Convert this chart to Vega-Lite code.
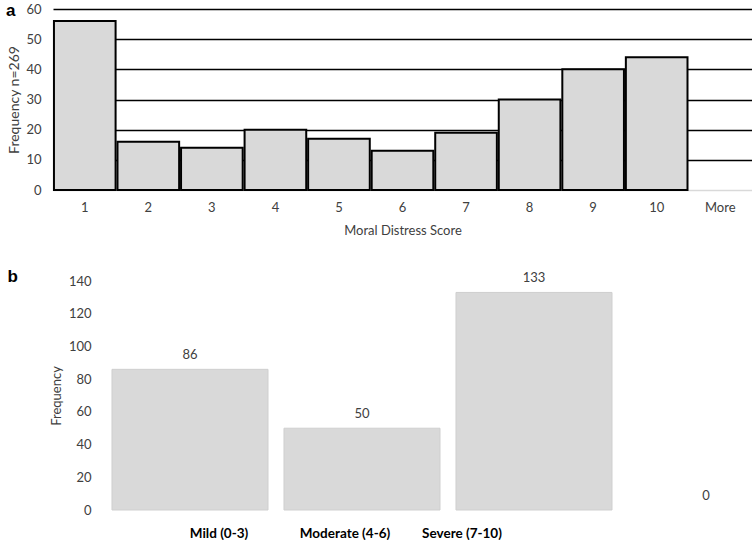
{
  "$schema": "https://vega.github.io/schema/vega-lite/v6.json",
  "padding": {"left": 5, "top": 2, "right": 0, "bottom": 0},
  "config": {"view": {"stroke": null}, "font": "Lato", "axis": {"labelColor": "#404040", "titleColor": "#404040", "titleFontWeight": "normal"}},
  "datasets": {
    "scores": [
      {"score": "1", "freq": 56}, {"score": "2", "freq": 16}, {"score": "3", "freq": 14},
      {"score": "4", "freq": 20}, {"score": "5", "freq": 17}, {"score": "6", "freq": 13},
      {"score": "7", "freq": 19}, {"score": "8", "freq": 30}, {"score": "9", "freq": 40},
      {"score": "10", "freq": 44}, {"score": "More", "freq": 0}
    ],
    "levels": [
      {"level": "Mild (0-3)", "freq": 86}, {"level": "Moderate (4-6)", "freq": 50},
      {"level": "Severe (7-10)", "freq": 133}, {"level": "More", "freq": 0}
    ]
  },
  "vconcat": [
    {
      "title": {"text": "a", "anchor": "start", "frame": "bounds", "font": "Liberation Sans", "fontSize": 17, "fontWeight": "bold", "color": "#000000", "baseline": "top", "offset": -17, "dx": -2},
      "width": 699,
      "height": 181,
      "data": {"name": "scores"},
      "transform": [{"filter": "datum.freq > 0"}],
      "mark": {"type": "bar", "fill": "#d9d9d9", "stroke": "#000000", "strokeWidth": 2},
      "encoding": {
        "x": {"field": "score", "type": "ordinal", "sort": null,
          "scale": {"domain": ["1","2","3","4","5","6","7","8","9","10","More"], "paddingInner": 0.03, "paddingOuter": 0.015},
          "axis": {"title": "Moral Distress Score", "labelAngle": 0, "ticks": false, "domain": false, "labelPadding": 11, "titlePadding": 10, "labelFontSize": 13, "titleFontSize": 13}},
        "y": {"field": "freq", "type": "quantitative",
          "scale": {"domain": [0, 60]},
          "axis": {"title": "Frequency n=269", "values": [0,10,20,30,40,50,60], "grid": true,
            "gridColor": {"condition": {"test": "datum.value === 0", "value": "#d9d9d9"}, "value": "#000000"},
            "gridWidth": 1.5, "domain": false, "ticks": false, "labelPadding": 12, "titlePadding": 4, "labelFontSize": 13, "titleFontSize": 14}}
      }
    },
    {
      "title": {"text": "b", "anchor": "start", "frame": "bounds", "font": "Liberation Sans", "fontSize": 17, "fontWeight": "bold", "color": "#000000", "baseline": "top", "offset": -14, "dx": -43},
      "width": 699,
      "height": 229,
      "data": {"name": "levels"},
      "encoding": {
        "x": {"field": "level", "type": "nominal", "sort": null,
          "scale": {"domain": ["Mild (0-3)", "Moderate (4-6)", "Severe (7-10)", "More"], "range": [51, 739], "paddingInner": 0.093, "paddingOuter": 0.0465},
          "axis": {"title": null, "labelAngle": 0, "ticks": false, "domain": false, "labelPadding": 16, "labelFontSize": 13.5, "labelFontWeight": "bold", "labelColor": "#000000",
            "labelExpr": "datum.value === 'More' ? '' : datum.label",
            "labelOffset": {"condition": [{"test": "datum.value === 'Mild (0-3)'", "value": 29}, {"test": "datum.value === 'Moderate (4-6)'", "value": -17}], "value": -72}}},
        "y": {"field": "freq", "type": "quantitative",
          "scale": {"domain": [0, 140]},
          "axis": {"title": "Frequency", "values": [0,20,40,60,80,100,120,140], "grid": false, "domain": false, "ticks": false, "offset": -40, "labelPadding": 2, "titlePadding": 5, "labelFontSize": 13, "titleFontSize": 13}}
      },
      "layer": [
        {"transform": [{"filter": "datum.freq > 0"}], "mark": {"type": "bar", "fill": "#d9d9d9", "stroke": "#cfcfcf", "strokeWidth": 1}},
        {"mark": {"type": "text", "baseline": "middle", "dy": -14, "fontSize": 13, "color": "#404040"}, "encoding": {"text": {"field": "freq", "type": "quantitative"}}}
      ]
    }
  ],
  "spacing": 31
}
